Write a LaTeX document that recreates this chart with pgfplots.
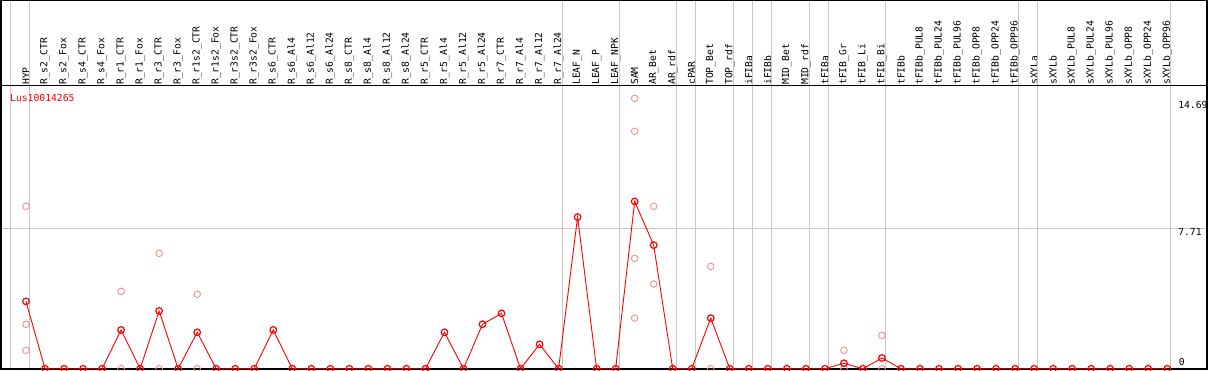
\documentclass[border=0pt]{standalone}
\usepackage{fontspec}
\setmainfont{DejaVu Sans Mono}
\usepackage{pgfplots}
\pgfplotsset{compat=1.18}
\definecolor{pale}{RGB}{238,144,144}
\definecolor{gridc}{RGB}{200,200,200}
\begin{document}
\fontsize{9.7}{11}\selectfont
\begin{tikzpicture}
\begin{axis}[
  scale only axis, width=1206pt, height=284pt,
  xmin=-1.314, xmax=62.09, ymin=-0.016, ymax=15.58,
  axis line style={draw=none},
  clip=false,
  xtick={0,...,60},
  xticklabels={HYP,R\_s2\_CTR,R\_s2\_Fox,R\_s4\_CTR,R\_s4\_Fox,R\_r1\_CTR,R\_r1\_Fox,R\_r3\_CTR,R\_r3\_Fox,R\_r1s2\_CTR,R\_r1s2\_Fox,R\_r3s2\_CTR,R\_r3s2\_Fox,R\_s6\_CTR,R\_s6\_Al4,R\_s6\_Al12,R\_s6\_Al24,R\_s8\_CTR,R\_s8\_Al4,R\_s8\_Al12,R\_s8\_Al24,R\_r5\_CTR,R\_r5\_Al4,R\_r5\_Al12,R\_r5\_Al24,R\_r7\_CTR,R\_r7\_Al4,R\_r7\_Al12,R\_r7\_Al24,LEAF\_N,LEAF\_P,LEAF\_NPK,SAM,AR\_Bet,AR\_rdf,cPAR,TOP\_Bet,TOP\_rdf,iFIBa,iFIBb,MID\_Bet,MID\_rdf,tFIBa,tFIB\_Gr,tFIB\_Li,tFIB\_Bi,tFIBb,tFIBb\_PUL8,tFIBb\_PUL24,tFIBb\_PUL96,tFIBb\_OPP8,tFIBb\_OPP24,tFIBb\_OPP96,sXYLa,sXYLb,sXYLb\_PUL8,sXYLb\_PUL24,sXYLb\_PUL96,sXYLb\_OPP8,sXYLb\_OPP24,sXYLb\_OPP96},
  xticklabel pos=upper,
  xticklabel style={rotate=90, anchor=west, inner sep=0pt, font=\fontsize{9.7}{11}\selectfont},
  major tick length=0pt,
  ytick=\empty,
]
% grid lines
\draw[gridc, line width=1pt] (axis cs:-1.314,7.71) -- (axis cs:62.09,7.71);
\pgfplotsinvokeforeach{-0.84,0.2,28.2,31.2,34.2,35.2,37.2,38.2,39.2,41.2,42.2,45.2,52.2,53.2,60.15}{
  \draw[gridc, line width=1pt] (axis cs:#1,-0.016) -- (axis cs:#1,20.2);
}
% frame
\draw[black, line width=1.2pt] (axis cs:-1.314,-0.016) rectangle (axis cs:62.09,20.22);
\draw[black, line width=1pt] (axis cs:-1.314,15.58) -- (axis cs:62.09,15.58);
\coordinate (BL) at (axis cs:-1.314,-0.016);
\coordinate (TR) at (axis cs:62.09,20.25);
% value labels
\node[anchor=north west, inner sep=0pt] at (axis cs:60.57,14.69) {14.69};
\node[anchor=north west, inner sep=0pt] at (axis cs:60.57,7.71) {7.71};
\node[anchor=south west, inner sep=0pt] at (axis cs:60.6,0.15) {0};
\node[anchor=west, inner sep=0pt, text=red] at (axis cs:-0.84,14.89) {Lus10014265};
% replicates
\addplot[only marks, mark=o, mark size=3.3pt, color=pale, mark options={line width=0.9pt}] coordinates {
 (0,8.92) (0,2.44) (0,1.01)
 (5,4.25) (5,0)
 (7,6.34) (7,0)
 (9,4.09) (9,0)
 (32,14.85) (32,13.04) (32,6.06) (32,2.78)
 (33,8.92) (33,4.65)
 (36,5.62) (36,0)
 (43,1.01) (43,0)
 (45,1.83) (45,0)
};
% mean
\addplot[red, line width=0.9pt, mark=o, mark size=3.3pt, mark options={line width=1.2pt}] coordinates {
 (0,3.70) (1,0) (2,0) (3,0) (4,0) (5,2.13) (6,0) (7,3.17) (8,0) (9,2.00)
 (10,0) (11,0) (12,0) (13,2.13) (14,0) (15,0) (16,0) (17,0) (18,0) (19,0)
 (20,0) (21,0) (22,2.00) (23,0) (24,2.44) (25,3.04) (26,0) (27,1.34) (28,0) (29,8.33)
 (30,0) (31,0) (32,9.19) (33,6.79) (34,0) (35,0) (36,2.78) (37,0) (38,0) (39,0)
 (40,0) (41,0) (42,0) (43,0.30) (44,0) (45,0.59) (46,0) (47,0) (48,0) (49,0)
 (50,0) (51,0) (52,0) (53,0) (54,0) (55,0) (56,0) (57,0) (58,0) (59,0) (60,0)
};
\end{axis}
\pgfresetboundingbox
\path[use as bounding box] ([xshift=-1pt,yshift=-1pt]BL) rectangle ([xshift=2pt]TR);
\end{tikzpicture}
\end{document}
